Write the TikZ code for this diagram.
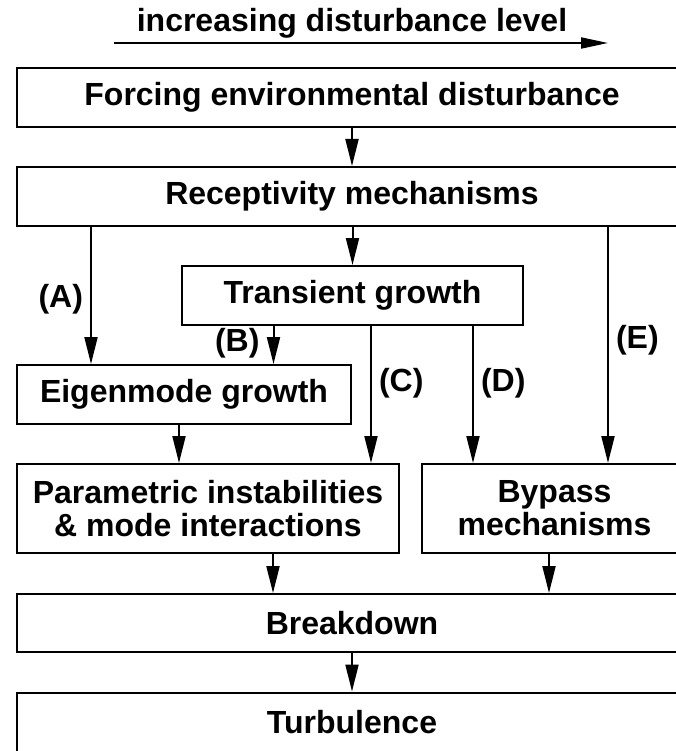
\documentclass[tikz,border=0pt]{standalone}
\usepackage{fontspec}
\setmainfont{Liberation Sans}
\usetikzlibrary{arrows.meta}

\begin{document}
\begin{tikzpicture}[x=1pt, y=1pt, node distance=99pt,
  every node/.style={font=\bfseries\fontsize{32}{33}\selectfont},
  box/.style={draw, line width=2pt, inner sep=0pt, minimum height=59pt, align=center},
  lab/.style={inner sep=7pt},
  link/.style={line width=2pt, -{Triangle[length=27pt,width=13pt]}}]
\useasboundingbox (0,0) rectangle (676,-751);
\clip (0,0) rectangle (676,-751);

\node (title) at (352,-32) [anchor=base] {increasing disturbance level};
\coordinate (low) at (114,-43);
\coordinate (high) at (608,-43);
\draw[line width=2pt, -{Triangle[length=27pt,width=11pt]}] (low) -- (high);

\node (forcing) [box, minimum width=670pt] at (352,-97.5) {Forcing environmental disturbance};
\node (recep) [box, minimum width=670pt, below of=forcing] {Receptivity mechanisms};
\node (trans) [box, minimum width=341pt, below of=recep, xshift=0.5pt] {Transient growth};
\node (eigen) [box, minimum width=334pt, below of=trans, xshift=-168.5pt] {Eigenmode growth};
\node (param) [box, minimum width=382pt, minimum height=89pt] at (208,-508.5) {Parametric instabilities\\\& mode interactions};
\node (bypass) [box, minimum width=265pt, minimum height=89pt] at (554.5,-508.5) {Bypass\\mechanisms};
\node (brkdwn) [box, minimum width=670pt, minimum height=58pt] at (352,-623) {Breakdown};
\node (turb) [box, minimum width=670pt, below of=brkdwn] {Turbulence};

% branch points
\coordinate (a) at ([xshift=-261pt]recep.south);
\coordinate (b) at ([xshift=-79pt]trans.south);
\coordinate (c) at ([xshift=18.5pt]trans.south);
\coordinate (d) at ([xshift=120.5pt]trans.south);
\coordinate (e) at ([xshift=256pt]recep.south);
\coordinate (eig) at ([xshift=-5pt]eigen.south);
\coordinate (par) at ([xshift=65pt]param.south);
\coordinate (byp) at ([xshift=-5.5pt]bypass.south);

\draw[link] (forcing) -- (recep);
\draw[link] (recep.south -| trans.north) -- (trans.north);
\draw[link] (a) -- node[lab, left, pos=0.53] {(A)} (a |- eigen.north);
\draw[link] (b) -- node[lab, left, pos=0.45, xshift=-6pt] {(B)} (b |- eigen.north);
\draw[link] (c) -- node[lab, right, pos=0.42] {(C)} (c |- param.north);
\draw[link] (d) -- node[lab, right, pos=0.42] {(D)} (d |- bypass.north);
\draw[link] (e) -- node[lab, right, pos=0.48] {(E)} (e |- bypass.north);
\draw[link] (eig) -- (eig |- param.north);
\draw[link] (par) -- (par |- brkdwn.north);
\draw[link] (byp) -- (byp |- brkdwn.north);
\draw[link] (brkdwn) -- (turb);
\end{tikzpicture}
\end{document}
